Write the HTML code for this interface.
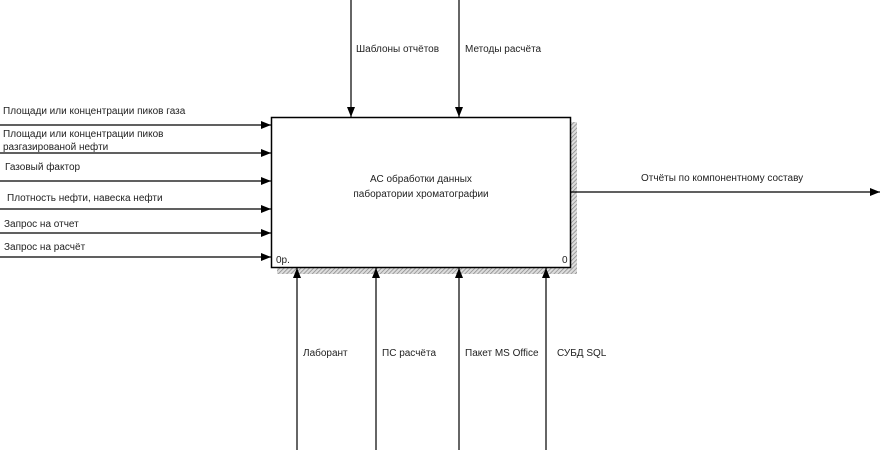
<!DOCTYPE html>
<html><head><meta charset="utf-8"><style>
body{margin:0;background:#fff;}
svg text{font-family:"Liberation Sans",sans-serif;font-size:10px;fill:#222;}
</style></head><body>
<svg width="880" height="450" xmlns="http://www.w3.org/2000/svg">
<defs>
<pattern id="h" width="3" height="3" patternUnits="userSpaceOnUse" patternTransform="rotate(45)">
<rect width="3" height="3" fill="#ddd"/><line x1="0" y1="0" x2="0" y2="3" stroke="#888" stroke-width="1.5"/>
</pattern>
<marker id="a" markerWidth="10" markerHeight="8" refX="10" refY="4" orient="auto" markerUnits="userSpaceOnUse">
<path d="M0,0 L10,4 L0,8 z" fill="#000"/></marker>
</defs>
<rect x="571" y="122" width="6" height="152" fill="url(#h)"/>
<rect x="277" y="268" width="300" height="6" fill="url(#h)"/>
<rect x="271.5" y="117.5" width="299" height="150" fill="#fff" stroke="#000" stroke-width="1.5"/>
<text x="421" y="182" text-anchor="middle">АС обработки данных</text>
<text x="421" y="197" text-anchor="middle">паборатории хроматографии</text>
<text x="276" y="263">0р.</text>
<text x="562" y="263">0</text>
<g stroke="#000" stroke-width="1.2" fill="none" marker-end="url(#a)">
<line x1="0" y1="125" x2="271" y2="125"/>
<line x1="0" y1="153" x2="271" y2="153"/>
<line x1="0" y1="181" x2="271" y2="181"/>
<line x1="0" y1="209" x2="271" y2="209"/>
<line x1="0" y1="233" x2="271" y2="233"/>
<line x1="0" y1="257" x2="271" y2="257"/>
<line x1="351" y1="0" x2="351" y2="117"/>
<line x1="459" y1="0" x2="459" y2="117"/>
<line x1="297" y1="450" x2="297" y2="268"/>
<line x1="376" y1="450" x2="376" y2="268"/>
<line x1="459" y1="450" x2="459" y2="268"/>
<line x1="546" y1="450" x2="546" y2="268"/>
<line x1="571" y1="192" x2="880" y2="192"/>
</g>
<text x="3" y="114">Площади или концентрации пиков газа</text>
<text x="3" y="137">Площади или концентрации пиков</text>
<text x="3" y="150">разгазированой нефти</text>
<text x="5" y="170">Газовый фактор</text>
<text x="7" y="201">Плотность нефти, навеска нефти</text>
<text x="4" y="227">Запрос на отчет</text>
<text x="4" y="250">Запрос на расчёт</text>
<text x="356" y="52">Шаблоны отчётов</text>
<text x="465" y="52">Методы расчёта</text>
<text x="641" y="181">Отчёты по компонентному составу</text>
<text x="303" y="356">Лаборант</text>
<text x="382" y="356">ПС расчёта</text>
<text x="465" y="356">Пакет MS Office</text>
<text x="557" y="356">СУБД SQL</text>
</svg>
</body></html>
